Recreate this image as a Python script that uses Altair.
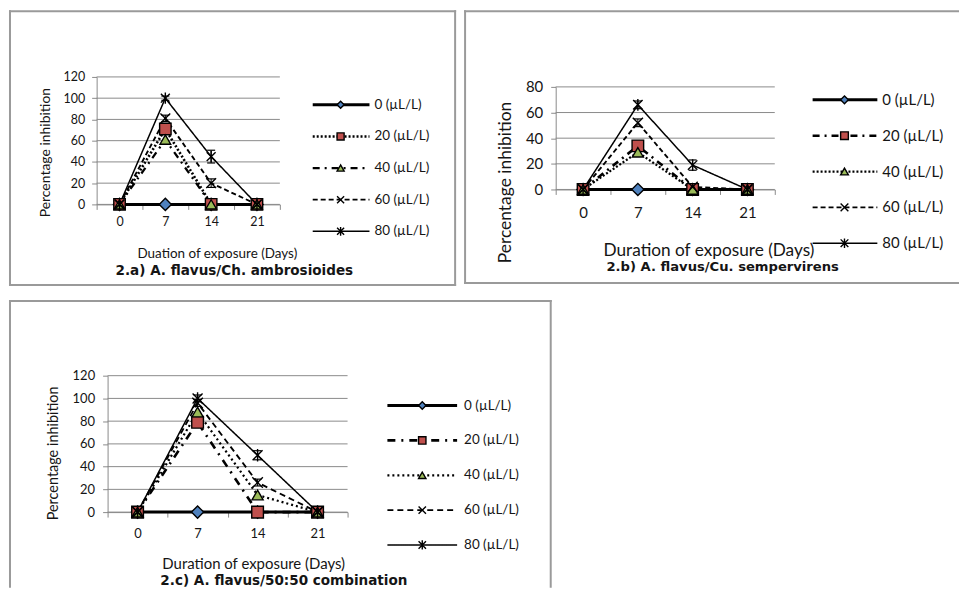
import altair as alt
import pandas as pd

FONT = "Lato"
TFONT = "DejaVu Sans"
GRID = "#8a8a8a"
BORDER = "#9a9a9a"
INK = "#151515"

days = [0, 7, 14, 21]
series = ["0", "20", "40", "60", "80"]
legend_labels = ["0 (µL/L)", "20 (µL/L)", "40 (µL/L)", "60 (µL/L)", "80 (µL/L)"]
marker_colors = ["#4F81BD", "#C0504D", "#9BBB59", "#000000", "#000000"]
y_title = "Percentage inhibition"

# 2.a) A. flavus / Ch. ambrosioides
a_0 = [0, 0, 0, 0]
a_20 = [0, 71, 0, 0]
a_40 = [0, 61, 0, 0]
a_60 = [0, 81, 20, 0]
a_80 = [0, 100, 45, 0]
a_err60 = [0, 3, 4, 0]
a_err80 = [0, 2, 6, 0]
a_ticks = [0, 20, 40, 60, 80, 100, 120]
a_xtitle = "Duation of exposure (Days)"
a_title = "2.a) A. flavus/Ch. ambrosioides"

# 2.b) A. flavus / Cu. sempervirens
b_0 = [0, 0, 0, 0]
b_20 = [0, 34, 0, 0]
b_40 = [0, 29, 0, 0]
b_60 = [0, 52, 2, 0]
b_80 = [0, 66, 19, 0]
b_err60 = [0, 3, 0, 0]
b_err80 = [0, 3, 4, 0]
b_ticks = [0, 20, 40, 60, 80]
b_xtitle = "Duration of exposure (Days)"
b_title = "2.b) A. flavus/Cu. sempervirens"

# 2.c) A. flavus / 50:50 combination
c_0 = [0, 0, 0, 0]
c_20 = [0, 79, 0, 0]
c_40 = [0, 88, 15, 0]
c_60 = [0, 96, 26, 0]
c_80 = [0, 100, 50, 0]
c_err60 = [0, 3, 3, 0]
c_err80 = [0, 3, 4, 0]
c_ticks = [0, 20, 40, 60, 80, 100, 120]
c_xtitle = "Duration of exposure (Days)"
c_title = "2.c) A. flavus/50:50 combination"

X_PATH = "M-1,-1L1,1M-1,1L1,-1"
STAR_PATH = "M-1,-1L1,1M-1,1L1,-1M0,-1.25L0,1.25"
CAP_PATH = "M-1,0L1,0"

single = pd.DataFrame({"k": [0]})


def hseg(x, x2, y):
    return alt.Chart(single).mark_rule(color=BORDER, strokeWidth=2).encode(
        x=alt.value(x), x2=alt.value(x2), y=alt.value(y))


def vseg(x, y, y2):
    return alt.Chart(single).mark_rule(color=BORDER, strokeWidth=2).encode(
        x=alt.value(x), y=alt.value(y), y2=alt.value(y2))


def label(txt, x, y, size, font=FONT, weight="normal", angle=0, align="left"):
    kw = dict(text=txt, fontSize=size, font=font, fontWeight=weight,
              align=align, baseline="middle", color=INK)
    if angle:
        kw["angle"] = angle
    return alt.Chart(single).mark_text(**kw).encode(x=alt.value(x), y=alt.value(y))


def panel(vals, e60, e80, ticks, dashes, g, xtitle, title, sides):
    W, H = g["W"], g["H"]
    pl, pr, pt, pb = g["pl"], g["pr"], g["pt"], g["pb"]
    rows = [dict(day=d, series=s, value=v)
            for s, vs in zip(series, vals) for d, v in zip(days, vs)]
    df = pd.DataFrame(rows)
    erows = []
    for s, base, err in (("60", vals[3], e60), ("80", vals[4], e80)):
        for d, v, e in zip(days, base, err):
            if e > 0:
                erows.append(dict(day=d, series=s, lo=v - e, hi=v + e))
    edf = pd.DataFrame(erows)
    gdf = pd.DataFrame({"v": ticks})
    leg = pd.DataFrame({"series": series, "label": legend_labels})

    xsc = alt.Scale(type="band", domain=days, range=[pl, pr], paddingInner=0, paddingOuter=0)
    xax = alt.Axis(title=None, labelAngle=0, tickBand="extent", grid=False,
                   offset=pb - H, domainColor=GRID, tickColor=GRID, tickSize=5,
                   labelFontSize=g["tick"], labelFont=FONT, labelColor=INK,
                   labelPadding=g["xpad"])
    x = alt.X("day:O", scale=xsc, axis=xax, bandPosition=0.5)
    ysc = alt.Scale(domain=[0, ticks[-1]], range=[pb, pt], nice=False, zero=True)
    yax = alt.Axis(title=None, values=ticks, grid=False, offset=-pl,
                   domainColor=GRID, tickColor=GRID, tickSize=5,
                   labelFontSize=g["tick"], labelFont=FONT, labelColor=INK,
                   labelPadding=g["ypad"])
    y = alt.Y("value:Q", scale=ysc, axis=yax)

    dash = alt.StrokeDash("series:N", scale=alt.Scale(domain=series, range=dashes), legend=None)
    sw = alt.StrokeWidth("series:N", scale=alt.Scale(domain=series, range=[3, 1.5, 1.5, 2, 1]), legend=None)
    shape = alt.Shape("series:N", scale=alt.Scale(
        domain=series, range=["diamond", "square", "triangle-up", X_PATH, STAR_PATH]), legend=None)
    fill = alt.Fill("series:N", scale=alt.Scale(domain=series, range=marker_colors), legend=None)
    size = alt.Size("series:N", scale=alt.Scale(domain=series, range=g["sizes"]), legend=None)

    grid = alt.Chart(gdf).mark_rule(color=GRID, strokeWidth=1).encode(
        x=alt.value(pl), x2=alt.value(pr), y=alt.Y("v:Q", scale=ysc, axis=yax))
    lines = alt.Chart(df).mark_line(color="black").encode(
        x=x, y=y, detail="series:N", strokeDash=dash, strokeWidth=sw)
    erule = alt.Chart(edf).mark_rule(color="black", strokeWidth=1).encode(
        x=x, y=alt.Y("lo:Q", scale=ysc, axis=yax), y2="hi:Q")
    ecap_lo = alt.Chart(edf).mark_point(shape=CAP_PATH, size=64, color="black", filled=False,
                                        strokeWidth=1.2, opacity=1).encode(
        x=x, y=alt.Y("lo:Q", scale=ysc, axis=yax))
    ecap_hi = alt.Chart(edf).mark_point(shape=CAP_PATH, size=64, color="black", filled=False,
                                        strokeWidth=1.2, opacity=1).encode(
        x=x, y=alt.Y("hi:Q", scale=ysc, axis=yax))
    pts = alt.Chart(df).mark_point(filled=True, stroke="black", strokeWidth=1.4, opacity=1).encode(
        x=x, y=y, shape=shape, fill=fill, size=size)
    main = alt.layer(grid, lines, erule, ecap_lo, ecap_hi, pts)

    ly = alt.Y("series:N", scale=alt.Scale(type="point", domain=series,
                                           range=[g["ly0"], g["ly1"]], padding=0), axis=None)
    lrule = alt.Chart(leg).mark_rule(color="black").encode(
        x=alt.value(g["lx0"]), x2=alt.value(g["lx1"]), y=ly, strokeDash=dash, strokeWidth=sw)
    lpt = alt.Chart(leg).mark_point(filled=True, stroke="black", strokeWidth=1.4, opacity=1,
                                    size=g["lsize"]).encode(
        x=alt.value(g["lm"]), y=ly, shape=shape, fill=fill)
    ltxt = alt.Chart(leg).mark_text(align="left", baseline="middle", font=FONT,
                                    fontSize=g["leg"], color=INK).encode(
        x=alt.value(g["lt"]), y=ly, text="label:N")
    legend = alt.layer(lrule, lpt, ltxt)

    deco = []
    if "top" in sides:
        deco.append(hseg(0, W, 1))
    if "bottom" in sides:
        deco.append(hseg(0, W, H - 1))
    if "left" in sides:
        deco.append(vseg(1, 0, H))
    if "right" in sides:
        deco.append(vseg(W - 1, 0, H))
    deco.append(label(y_title, g["ytx"], g["yty"], g["ytf"], angle=270, align="center"))
    deco.append(label(xtitle, g["xtx"], g["xty"], g["xtf"]))
    deco.append(label(title, g["stx"], g["sty"], g["stf"], font=TFONT, weight="bold"))

    return alt.layer(*deco, main, legend).resolve_scale(y="independent").properties(
        width=W, height=H)


ga = dict(W=449, H=277, pl=88, pr=272, pt=67, pb=195,
          tick=12.5, xpad=6, ypad=7, sizes=[150, 80, 90, 70, 70], lsize=50,
          ly0=95, ly1=222, lx0=305, lx1=362, lm=333, lt=367, leg=13.5,
          ytx=37, yty=143, ytf=14, xtx=129, xty=245, xtf=13.5, stx=107, sty=262, stf=13.6)
gb = dict(W=497, H=275, pl=92, pr=312, pt=77, pb=180,
          tick=15, xpad=11, ypad=8, sizes=[150, 90, 90, 80, 80], lsize=60,
          ly0=90, ly1=234, lx0=350, lx1=415, lm=382, lt=420, leg=15,
          ytx=42, yty=173, ytf=17.5, xtx=140, xty=242, xtf=17.3, stx=143, sty=258, stf=13.2)
gc = dict(W=545, H=289, pl=99, pr=340, pt=76, pb=213,
          tick=13, xpad=11, ypad=8, sizes=[150, 100, 90, 80, 80], lsize=55,
          ly0=106, ly1=246, lx0=380, lx1=450, lm=415, lt=457, leg=13.5,
          ytx=45, yty=154, ytf=14.5, xtx=154, xty=265, xtf=15, stx=152, sty=282, stf=13.6)

pa = panel([a_0, a_20, a_40, a_60, a_80], a_err60, a_err80, a_ticks,
           [[1, 0], [2, 2], [7, 5, 2, 5], [5, 3], [1, 0]], ga, a_xtitle, a_title,
           ["top", "bottom", "left", "right"])
pb_ = panel([b_0, b_20, b_40, b_60, b_80], b_err60, b_err80, b_ticks,
            [[1, 0], [7, 5, 2, 5], [2, 2], [5, 3], [1, 0]], gb, b_xtitle, b_title,
            ["top", "bottom", "left"])
pc = panel([c_0, c_20, c_40, c_60, c_80], c_err60, c_err80, c_ticks,
           [[1, 0], [8, 6, 2, 6], [2, 3], [6, 4], [1, 0]], gc, c_xtitle, c_title,
           ["top", "left", "right"])

indep = dict(strokeDash="independent", strokeWidth="independent", size="independent",
             shape="independent", fill="independent")
top = alt.hconcat(pa, pb_, spacing=6).resolve_scale(**indep)
chart = (alt.vconcat(top, pc, spacing=12).resolve_scale(**indep)
         .properties(padding=0).configure_view(strokeWidth=0))

chart.save("out.html", embed_options={"renderer": "svg", "actions": False})
